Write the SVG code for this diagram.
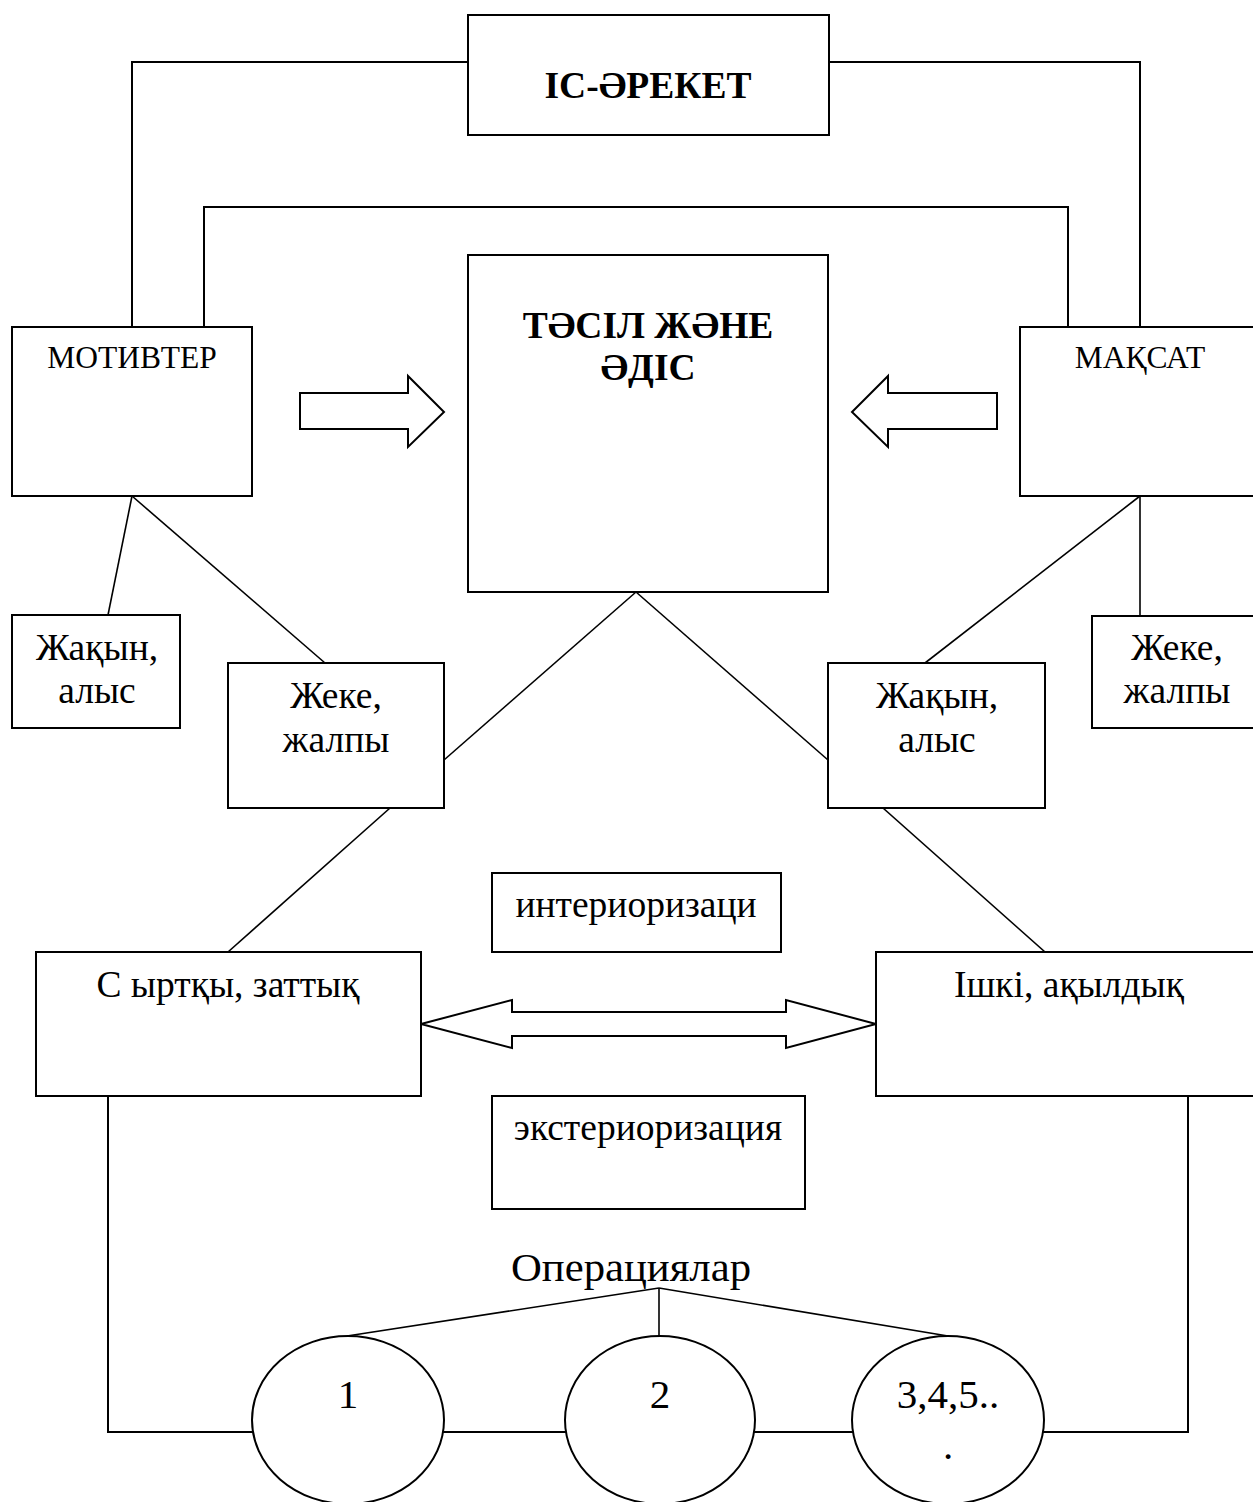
<svg xmlns="http://www.w3.org/2000/svg" width="1253" height="1502" viewBox="0 0 1253 1502">
<style>
.box{fill:#fff;stroke:#000;stroke-width:2}
.ln{fill:none;stroke:#000;stroke-width:2}
.dl{fill:none;stroke:#000;stroke-width:1.6}
.arr{fill:#fff;stroke:#000;stroke-width:2;stroke-linejoin:miter}
text{font-family:"Liberation Serif","Times New Roman",serif;fill:#000;text-anchor:middle}
.b{font-weight:bold;font-size:37.5px}
.m{font-size:31.5px}
.t{font-size:37.5px}
.n{font-size:41px}
</style>
<rect width="1253" height="1502" fill="#fff"/>
<g id="connectors">
<polyline class="ln" points="132,327 132,62 468,62"/>
<polyline class="ln" points="829,62 1140,62 1140,327"/>
<polyline class="ln" points="204,327 204,207 1068,207 1068,327"/>
<line class="dl" x1="132" y1="496" x2="108" y2="615"/>
<line class="dl" x1="132" y1="496" x2="325" y2="663"/>
<line class="dl" x1="636" y1="592" x2="444" y2="760"/>
<line class="dl" x1="636" y1="592" x2="828" y2="760"/>
<line class="dl" x1="1140" y1="496" x2="925" y2="663"/>
<line class="dl" x1="1140" y1="496" x2="1140" y2="616"/>
<line class="dl" x1="390" y1="808" x2="228" y2="952"/>
<line class="dl" x1="883" y1="808" x2="1045" y2="952"/>
<polyline class="ln" points="108,1096 108,1432 1188,1432 1188,1096"/>
<line class="dl" x1="659" y1="1288" x2="347" y2="1336"/>
<line class="dl" x1="659" y1="1288" x2="659" y2="1336"/>
<line class="dl" x1="659" y1="1288" x2="948" y2="1336"/>
<polygon class="arr" points="300,393 408,393 408,376 444,412 408,447 408,429 300,429"/>
<polygon class="arr" points="997,393 888,393 888,376 852,412 888,447 888,429 997,429"/>
<polygon class="arr" points="421,1024 512,1000 512,1012 786,1012 786,1000 876,1024 786,1048 786,1036 512,1036 512,1048"/>
</g>
<g id="is-areket"><rect class="box" x="468" y="15" width="361" height="120"/><text class="b" x="648" y="98">ІС-ӘРЕКЕТ</text></g>
<g id="tasil"><rect class="box" x="468" y="255" width="360" height="337"/><text class="b" x="648" y="338">ТӘСІЛ ЖӘНЕ</text><text class="b" x="648" y="380">ӘДІС</text></g>
<g id="motivter"><rect class="box" x="12" y="327" width="240" height="169"/><text class="m" x="132" y="368">МОТИВТЕР</text></g>
<g id="maksat"><rect class="box" x="1020" y="327" width="242" height="169"/><text class="m" x="1140" y="368">МАҚСАТ</text></g>
<g id="zhakyn-left"><rect class="box" x="12" y="615" width="168" height="113"/><text class="t" x="97" y="660">Жақын,</text><text class="t" x="97" y="703">алыс</text></g>
<g id="zheke-left"><rect class="box" x="228" y="663" width="216" height="145"/><text class="t" x="336" y="708">Жеке,</text><text class="t" x="336" y="752">жалпы</text></g>
<g id="zhakyn-right"><rect class="box" x="828" y="663" width="217" height="145"/><text class="t" x="937" y="708">Жақын,</text><text class="t" x="937" y="752">алыс</text></g>
<g id="zheke-right"><rect class="box" x="1092" y="616" width="170" height="112"/><text class="t" x="1177" y="660">Жеке,</text><text class="t" x="1177" y="703">жалпы</text></g>
<g id="interior"><rect class="box" x="492" y="873" width="289" height="79"/><text class="t" x="636" y="917">интериоризаци</text></g>
<g id="syrtky"><rect class="box" x="36" y="952" width="385" height="144"/><text class="t" x="228" y="997">С ыртқы, заттық</text></g>
<g id="ishki"><rect class="box" x="876" y="952" width="386" height="144"/><text class="t" x="1069" y="997">Ішкі, ақылдық</text></g>
<g id="exterior"><rect class="box" x="492" y="1096" width="313" height="113"/><text class="t" x="648" y="1140">экстериоризация</text></g>
<g id="operations"><text x="631" y="1281" style="font-size:40px" textLength="240" lengthAdjust="spacingAndGlyphs">Операциялар</text></g>
<g id="op1"><ellipse class="box" cx="348" cy="1420" rx="96" ry="84"/><text class="n" x="348" y="1408">1</text></g>
<g id="op2"><ellipse class="box" cx="660" cy="1420" rx="95" ry="84"/><text class="n" x="660" y="1408">2</text></g>
<g id="op3"><ellipse class="box" cx="948" cy="1420" rx="96" ry="84"/><text class="n" x="948" y="1408">3,4,5..</text><text class="n" x="948" y="1459">.</text></g>
</svg>
